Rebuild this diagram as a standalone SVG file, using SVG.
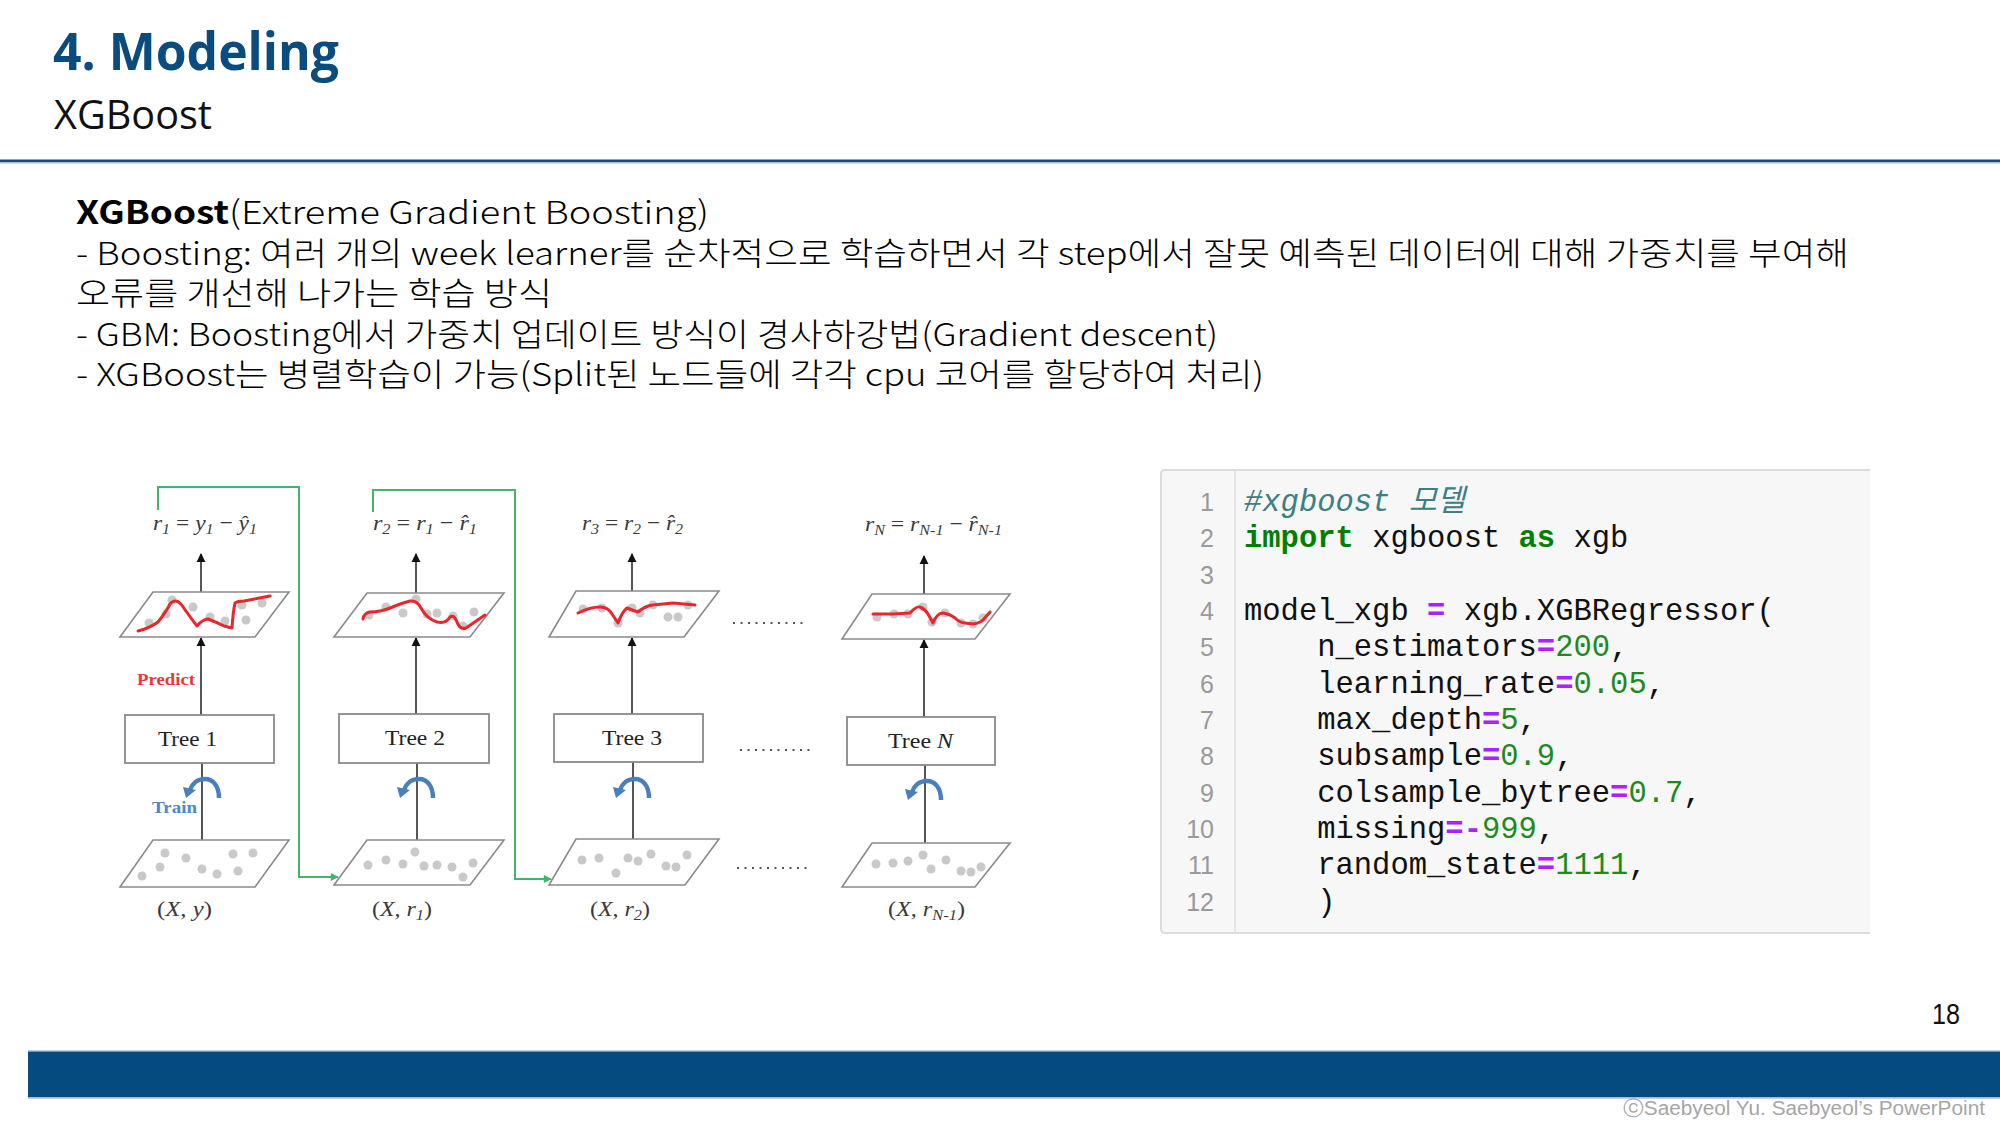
<svg xmlns="http://www.w3.org/2000/svg" width="2000" height="1125" viewBox="0 0 2000 1125">
  <defs>
    <style>
      .title { font-family: "Open Sans", "Noto Sans", sans-serif; font-weight: 700; font-size: 52px; fill: #0b4c7f; }
      .subtitle { font-family: "Open Sans", "Noto Sans", sans-serif; font-size: 40px; fill: #111; }
      .body { font-family: "Noto Sans CJK KR", "Noto Sans", sans-serif; font-size: 32px; font-weight: 300; fill: #000; }
      .bold { font-weight: 700; }
      .eq { font-family: "Liberation Serif", "DejaVu Serif", serif; font-style: italic; font-size: 22px; fill: #3a3a3a; }
      .up { font-style: normal; }
      .sub { font-size: 15px; }
      .tree { font-family: "Liberation Serif", "DejaVu Serif", serif; font-size: 22px; fill: #222; }
      .tag { font-family: "Liberation Serif", "DejaVu Serif", serif; font-weight: 700; font-size: 16px; }
      .plane { fill: #fff; stroke: #8a8a8a; stroke-width: 1.6; }
      .box { fill: #fff; stroke: #8a8a8a; stroke-width: 1.8; }
      .stem { stroke: #555; stroke-width: 2; fill: none; }
      .fit { fill: none; stroke: #e8262b; stroke-width: 3; stroke-linecap: round; stroke-linejoin: round; }
      .pt { fill: #c9c9c9; }
      .loop { fill: none; stroke: #4a7fbd; stroke-width: 4.5; }
      .loophead { fill: #4a7fbd; }
      .link { fill: none; stroke: #45b36c; stroke-width: 2; }
      .dots { stroke: #555; stroke-width: 2; stroke-dasharray: 2 5.5; }
      .ln { font-family: "Liberation Sans", Arial, sans-serif; font-size: 25px; fill: #9a9a9a; text-anchor: end; }
      .code { font-family: "Liberation Mono", "Noto Sans CJK KR", monospace; font-size: 30.5px; fill: #111; white-space: pre; }
      .kw { fill: #008000; font-weight: 700; }
      .op { fill: #aa22ff; font-weight: 700; }
      .num { fill: #1e8a1e; }
      .cm { fill: #3b8082; font-style: italic; }
    </style>
    <marker id="tip" viewBox="0 0 10 10" refX="9" refY="5" markerWidth="9" markerHeight="10" markerUnits="userSpaceOnUse" orient="auto">
      <path d="M0,0 L10,5 L0,10 z" fill="#111"/>
    </marker>
    <marker id="gtip" viewBox="0 0 10 10" refX="9" refY="5" markerWidth="9" markerHeight="8" markerUnits="userSpaceOnUse" orient="auto">
      <path d="M0,0 L10,5 L0,10 z" fill="#45b36c"/>
    </marker>
  </defs>

  <rect width="2000" height="1125" fill="#fff"/>

  <!-- header -->
  <g id="header">
    <text class="title" x="53" y="70" textLength="286" lengthAdjust="spacingAndGlyphs">4. Modeling</text>
    <text class="subtitle" x="54" y="129" textLength="158" lengthAdjust="spacingAndGlyphs">XGBoost</text>
    <rect x="0" y="159.5" width="2000" height="3" fill="#1d4b78"/>
    <rect x="0" y="162.5" width="2000" height="1.5" fill="#c5ddf2"/>
  </g>

  <!-- description -->
  <g id="description">
    <text class="body bold" x="76" y="224" textLength="153" lengthAdjust="spacingAndGlyphs">XGBoost</text>
    <text class="body" x="229" y="224" textLength="480" lengthAdjust="spacingAndGlyphs">(Extreme Gradient Boosting)</text>
    <text class="body" x="76" y="265" textLength="1773" lengthAdjust="spacingAndGlyphs">- Boosting: 여러 개의 week learner를 순차적으로 학습하면서 각 step에서 잘못 예측된 데이터에 대해 가중치를 부여해</text>
    <text class="body" x="76" y="305" textLength="476" lengthAdjust="spacingAndGlyphs">오류를 개선해 나가는 학습 방식</text>
    <text class="body" x="76" y="346" textLength="1142" lengthAdjust="spacingAndGlyphs">- GBM: Boosting에서 가중치 업데이트 방식이 경사하강법(Gradient descent)</text>
    <text class="body" x="76" y="386" textLength="1188" lengthAdjust="spacingAndGlyphs">- XGBoost는 병렬학습이 가능(Split된 노드들에 각각 cpu 코어를 할당하여 처리)</text>
  </g>

  <!-- boosting chain: connectors -->
  <g id="connectors">
    <path class="link" d="M158,510 V487 H299 V877 H338" marker-end="url(#gtip)"/>
    <path class="link" d="M373,512 V490 H515 V879 H551" marker-end="url(#gtip)"/>

    <line class="stem" x1="201" y1="592" x2="201" y2="554" marker-end="url(#tip)"/>
    <line class="stem" x1="201" y1="715" x2="201" y2="638" marker-end="url(#tip)"/>
    <line class="stem" x1="202" y1="840" x2="202" y2="763"/>

    <line class="stem" x1="416" y1="593" x2="416" y2="554" marker-end="url(#tip)"/>
    <line class="stem" x1="416" y1="714" x2="416" y2="638" marker-end="url(#tip)"/>
    <line class="stem" x1="417" y1="840" x2="417" y2="763"/>

    <line class="stem" x1="632" y1="591" x2="632" y2="554" marker-end="url(#tip)"/>
    <line class="stem" x1="632" y1="714" x2="632" y2="638" marker-end="url(#tip)"/>
    <line class="stem" x1="633" y1="839" x2="633" y2="762"/>

    <line class="stem" x1="924" y1="594" x2="924" y2="556" marker-end="url(#tip)"/>
    <line class="stem" x1="924" y1="717" x2="924" y2="640" marker-end="url(#tip)"/>
    <line class="stem" x1="925" y1="843" x2="925" y2="765"/>

    <line class="dots" x1="733" y1="623" x2="808" y2="623"/>
    <line class="dots" x1="740" y1="750" x2="815" y2="750"/>
    <line class="dots" x1="737" y1="868" x2="812" y2="868"/>
  </g>

  <!-- stage 1 -->
  <g id="stage1">
    <text class="eq" x="153" y="530" textLength="104" lengthAdjust="spacingAndGlyphs">r<tspan class="sub" dy="4">1</tspan><tspan dy="-4" class="up"> = </tspan>y<tspan class="sub" dy="4">1</tspan><tspan dy="-4" class="up"> − </tspan>ŷ<tspan class="sub" dy="4">1</tspan></text>
    <polygon class="plane" points="153,592 289,592 255,637 120,637"/>
    <g class="pt">
      <circle cx="149" cy="623" r="4.5"/><circle cx="172" cy="600" r="4.5"/><circle cx="193" cy="607" r="4.5"/>
      <circle cx="210" cy="617" r="4.5"/><circle cx="225" cy="621" r="4.5"/><circle cx="242" cy="605" r="4.5"/>
      <circle cx="246" cy="620" r="4.5"/><circle cx="262" cy="603" r="4.5"/><circle cx="166" cy="614" r="4.5"/>
    </g>
    <path class="fit" d="M138,631 Q150,628 158,622 Q166,612 170,604 Q175,598 181,604 Q190,617 197,626 Q203,619 208,619 Q216,622 224,626 L232,628 Q233,612 235,603 Q238,601 244,601 L270,596"/>
    <text class="tag" x="137" y="685" fill="#e8383d" textLength="58" lengthAdjust="spacingAndGlyphs">Predict</text>
    <rect class="box" x="125" y="715" width="149" height="48"/>
    <text class="tree" x="158" y="746" textLength="59" lengthAdjust="spacingAndGlyphs">Tree 1</text>
    <path class="loop" d="M219,798 C219,786 213,779 205,779 C197,779 192,784 190,790"/>
    <polygon class="loophead" points="183,787 196,790 186,798"/>
    <text class="tag" x="152" y="813" fill="#4f86c6" textLength="45" lengthAdjust="spacingAndGlyphs">Train</text>
    <polygon class="plane" points="153,840 289,840 255,887 120,887"/>
    <g class="pt">
      <circle cx="165" cy="853" r="4.5"/><circle cx="186" cy="858" r="4.5"/><circle cx="160" cy="867" r="4.5"/>
      <circle cx="142" cy="876" r="4.5"/><circle cx="202" cy="869" r="4.5"/><circle cx="217" cy="874" r="4.5"/>
      <circle cx="233" cy="854" r="4.5"/><circle cx="238" cy="871" r="4.5"/><circle cx="253" cy="853" r="4.5"/>
    </g>
    <text class="eq" x="157" y="916" textLength="55" lengthAdjust="spacingAndGlyphs"><tspan class="up">(</tspan>X<tspan class="up">, </tspan>y<tspan class="up">)</tspan></text>
  </g>

  <!-- stage 2 -->
  <g id="stage2">
    <text class="eq" x="373" y="530" textLength="104" lengthAdjust="spacingAndGlyphs">r<tspan class="sub" dy="4">2</tspan><tspan dy="-4" class="up"> = </tspan>r<tspan class="sub" dy="4">1</tspan><tspan dy="-4" class="up"> − </tspan>r̂<tspan class="sub" dy="4">1</tspan></text>
    <polygon class="plane" points="367,593 504,593 470,637 334,637"/>
    <g class="pt">
      <circle cx="369" cy="615" r="4.5"/><circle cx="386" cy="607" r="4.5"/><circle cx="403" cy="613" r="4.5"/>
      <circle cx="416" cy="599" r="4.5"/><circle cx="427" cy="614" r="4.5"/><circle cx="437" cy="613" r="4.5"/>
      <circle cx="453" cy="616" r="4.5"/><circle cx="463" cy="626" r="4.5"/><circle cx="474" cy="612" r="4.5"/>
    </g>
    <path class="fit" d="M363,619 Q364,613 370,612 Q380,612 390,608 Q402,603 410,601 Q417,600 421,608 Q427,619 437,622 Q446,624 450,617 Q454,614 457,622 Q460,630 466,628 L485,615"/>
    <rect class="box" x="339" y="714" width="150" height="49"/>
    <text class="tree" x="385" y="745" textLength="60" lengthAdjust="spacingAndGlyphs">Tree 2</text>
    <path class="loop" d="M433,798 C433,786 427,779 419,779 C411,779 406,784 404,790"/>
    <polygon class="loophead" points="397,787 410,790 400,798"/>
    <polygon class="plane" points="367,840 504,840 470,885 334,885"/>
    <g class="pt">
      <circle cx="368" cy="865" r="4.5"/><circle cx="386" cy="860" r="4.5"/><circle cx="403" cy="864" r="4.5"/>
      <circle cx="415" cy="852" r="4.5"/><circle cx="424" cy="866" r="4.5"/><circle cx="437" cy="865" r="4.5"/>
      <circle cx="452" cy="867" r="4.5"/><circle cx="463" cy="877" r="4.5"/><circle cx="473" cy="863" r="4.5"/>
    </g>
    <text class="eq" x="372" y="916" textLength="60" lengthAdjust="spacingAndGlyphs"><tspan class="up">(</tspan>X<tspan class="up">, </tspan>r<tspan class="sub" dy="4">1</tspan><tspan class="up" dy="-4">)</tspan></text>
  </g>

  <!-- stage 3 -->
  <g id="stage3">
    <text class="eq" x="582" y="530" textLength="101" lengthAdjust="spacingAndGlyphs">r<tspan class="sub" dy="4">3</tspan><tspan dy="-4" class="up"> = </tspan>r<tspan class="sub" dy="4">2</tspan><tspan dy="-4" class="up"> − </tspan>r̂<tspan class="sub" dy="4">2</tspan></text>
    <polygon class="plane" points="576,591 719,591 684,637 549,637"/>
    <g class="pt">
      <circle cx="583" cy="609" r="4.5"/><circle cx="602" cy="608" r="4.5"/><circle cx="618" cy="623" r="4.5"/>
      <circle cx="632" cy="608" r="4.5"/><circle cx="640" cy="613" r="4.5"/><circle cx="653" cy="605" r="4.5"/>
      <circle cx="668" cy="617" r="4.5"/><circle cx="678" cy="617" r="4.5"/><circle cx="688" cy="605" r="4.5"/>
    </g>
    <path class="fit" d="M578,613 Q590,607 600,607 Q608,607 612,614 L618,623 Q622,612 627,608 Q632,610 638,612 Q645,606 653,605 L673,603 L695,605"/>
    <rect class="box" x="554" y="714" width="149" height="48"/>
    <text class="tree" x="602" y="745" textLength="60" lengthAdjust="spacingAndGlyphs">Tree 3</text>
    <path class="loop" d="M649,798 C649,786 643,779 635,779 C627,779 622,784 620,790"/>
    <polygon class="loophead" points="613,787 626,790 616,798"/>
    <polygon class="plane" points="576,839 719,839 685,885 549,885"/>
    <g class="pt">
      <circle cx="582" cy="860" r="4.5"/><circle cx="599" cy="858" r="4.5"/><circle cx="616" cy="873" r="4.5"/>
      <circle cx="628" cy="858" r="4.5"/><circle cx="638" cy="861" r="4.5"/><circle cx="651" cy="854" r="4.5"/>
      <circle cx="666" cy="866" r="4.5"/><circle cx="676" cy="867" r="4.5"/><circle cx="687" cy="855" r="4.5"/>
    </g>
    <text class="eq" x="590" y="916" textLength="60" lengthAdjust="spacingAndGlyphs"><tspan class="up">(</tspan>X<tspan class="up">, </tspan>r<tspan class="sub" dy="4">2</tspan><tspan class="up" dy="-4">)</tspan></text>
  </g>

  <!-- stage N -->
  <g id="stageN">
    <text class="eq" x="865" y="531" textLength="137" lengthAdjust="spacingAndGlyphs">r<tspan class="sub" dy="4">N</tspan><tspan dy="-4" class="up"> = </tspan>r<tspan class="sub" dy="4">N-1</tspan><tspan dy="-4" class="up"> − </tspan>r̂<tspan class="sub" dy="4">N-1</tspan></text>
    <polygon class="plane" points="872,594 1010,594 975,639 842,639"/>
    <g class="pt">
      <circle cx="877" cy="617" r="4.5"/><circle cx="894" cy="614" r="4.5"/><circle cx="908" cy="614" r="4.5"/>
      <circle cx="923" cy="607" r="4.5"/><circle cx="932" cy="622" r="4.5"/><circle cx="945" cy="613" r="4.5"/>
      <circle cx="961" cy="623" r="4.5"/><circle cx="973" cy="624" r="4.5"/><circle cx="983" cy="618" r="4.5"/>
    </g>
    <path class="fit" d="M873,614 L893,614 L910,613 Q916,606 920,607 Q925,609 928,614 L933,623 Q937,613 943,613 Q950,614 955,618 Q960,623 965,623 L973,624 Q980,623 983,620 L990,612"/>
    <rect class="box" x="847" y="717" width="148" height="48"/>
    <text class="tree" x="888" y="748" textLength="65" lengthAdjust="spacingAndGlyphs">Tree <tspan font-style="italic">N</tspan></text>
    <path class="loop" d="M941,800 C941,788 935,781 927,781 C919,781 914,786 912,792"/>
    <polygon class="loophead" points="905,789 918,792 908,800"/>
    <polygon class="plane" points="872,843 1010,843 975,887 842,887"/>
    <g class="pt">
      <circle cx="876" cy="864" r="4.5"/><circle cx="893" cy="863" r="4.5"/><circle cx="908" cy="861" r="4.5"/>
      <circle cx="923" cy="855" r="4.5"/><circle cx="931" cy="869" r="4.5"/><circle cx="946" cy="860" r="4.5"/>
      <circle cx="961" cy="871" r="4.5"/><circle cx="971" cy="872" r="4.5"/><circle cx="981" cy="867" r="4.5"/>
    </g>
    <text class="eq" x="888" y="916" textLength="77" lengthAdjust="spacingAndGlyphs"><tspan class="up">(</tspan>X<tspan class="up">, </tspan>r<tspan class="sub" dy="4">N-1</tspan><tspan class="up" dy="-4">)</tspan></text>
  </g>

  <!-- code listing -->
  <g id="code">
    <rect x="1161" y="470" width="709" height="463" fill="#f7f7f7"/>
    <path d="M1870,470 H1165 Q1161,470 1161,474 V929 Q1161,933 1165,933 H1870" fill="none" stroke="#dcdcdc" stroke-width="2"/>
    <line x1="1235" y1="471" x2="1235" y2="932" stroke="#e4e4e4" stroke-width="2"/>
    <g>
      <text class="ln" x="1214" y="511">1</text>
      <text class="ln" x="1214" y="547">2</text>
      <text class="ln" x="1214" y="584">3</text>
      <text class="ln" x="1214" y="620">4</text>
      <text class="ln" x="1214" y="656">5</text>
      <text class="ln" x="1214" y="693">6</text>
      <text class="ln" x="1214" y="729">7</text>
      <text class="ln" x="1214" y="765">8</text>
      <text class="ln" x="1214" y="802">9</text>
      <text class="ln" x="1214" y="838">10</text>
      <text class="ln" x="1214" y="874">11</text>
      <text class="ln" x="1214" y="911">12</text>
    </g>
    <g>
      <text class="code" x="1244" y="511"><tspan class="cm">#xgboost 모델</tspan></text>
      <text class="code" x="1244" y="547"><tspan class="kw">import</tspan> xgboost <tspan class="kw">as</tspan> xgb</text>
      <text class="code" x="1244" y="620">model_xgb <tspan class="op">=</tspan> xgb.XGBRegressor(</text>
      <text class="code" x="1244" y="656">    n_estimators<tspan class="op">=</tspan><tspan class="num">200</tspan>,</text>
      <text class="code" x="1244" y="693">    learning_rate<tspan class="op">=</tspan><tspan class="num">0.05</tspan>,</text>
      <text class="code" x="1244" y="729">    max_depth<tspan class="op">=</tspan><tspan class="num">5</tspan>,</text>
      <text class="code" x="1244" y="765">    subsample<tspan class="op">=</tspan><tspan class="num">0.9</tspan>,</text>
      <text class="code" x="1244" y="802">    colsample_bytree<tspan class="op">=</tspan><tspan class="num">0.7</tspan>,</text>
      <text class="code" x="1244" y="838">    missing<tspan class="op">=-</tspan><tspan class="num">999</tspan>,</text>
      <text class="code" x="1244" y="874">    random_state<tspan class="op">=</tspan><tspan class="num">1111</tspan>,</text>
      <text class="code" x="1244" y="911">    )</text>
    </g>
  </g>

  <!-- footer -->
  <g id="footer">
    <text x="1932" y="1024" font-family="Liberation Sans, Arial, sans-serif" font-size="29" fill="#111" textLength="28" lengthAdjust="spacingAndGlyphs">18</text>
    <rect x="28" y="1050" width="1972" height="1.5" fill="#b9d3ea"/>
    <rect x="28" y="1051.5" width="1972" height="46" fill="#054b80"/>
    <rect x="28" y="1097.5" width="1972" height="1.5" fill="#b9d3ea"/>
    <text x="1985" y="1115" text-anchor="end" font-family="Liberation Sans, Arial, sans-serif" font-size="20" fill="#a6a6a6" textLength="362" lengthAdjust="spacingAndGlyphs">ⓒSaebyeol Yu. Saebyeol’s PowerPoint</text>
  </g>
</svg>
